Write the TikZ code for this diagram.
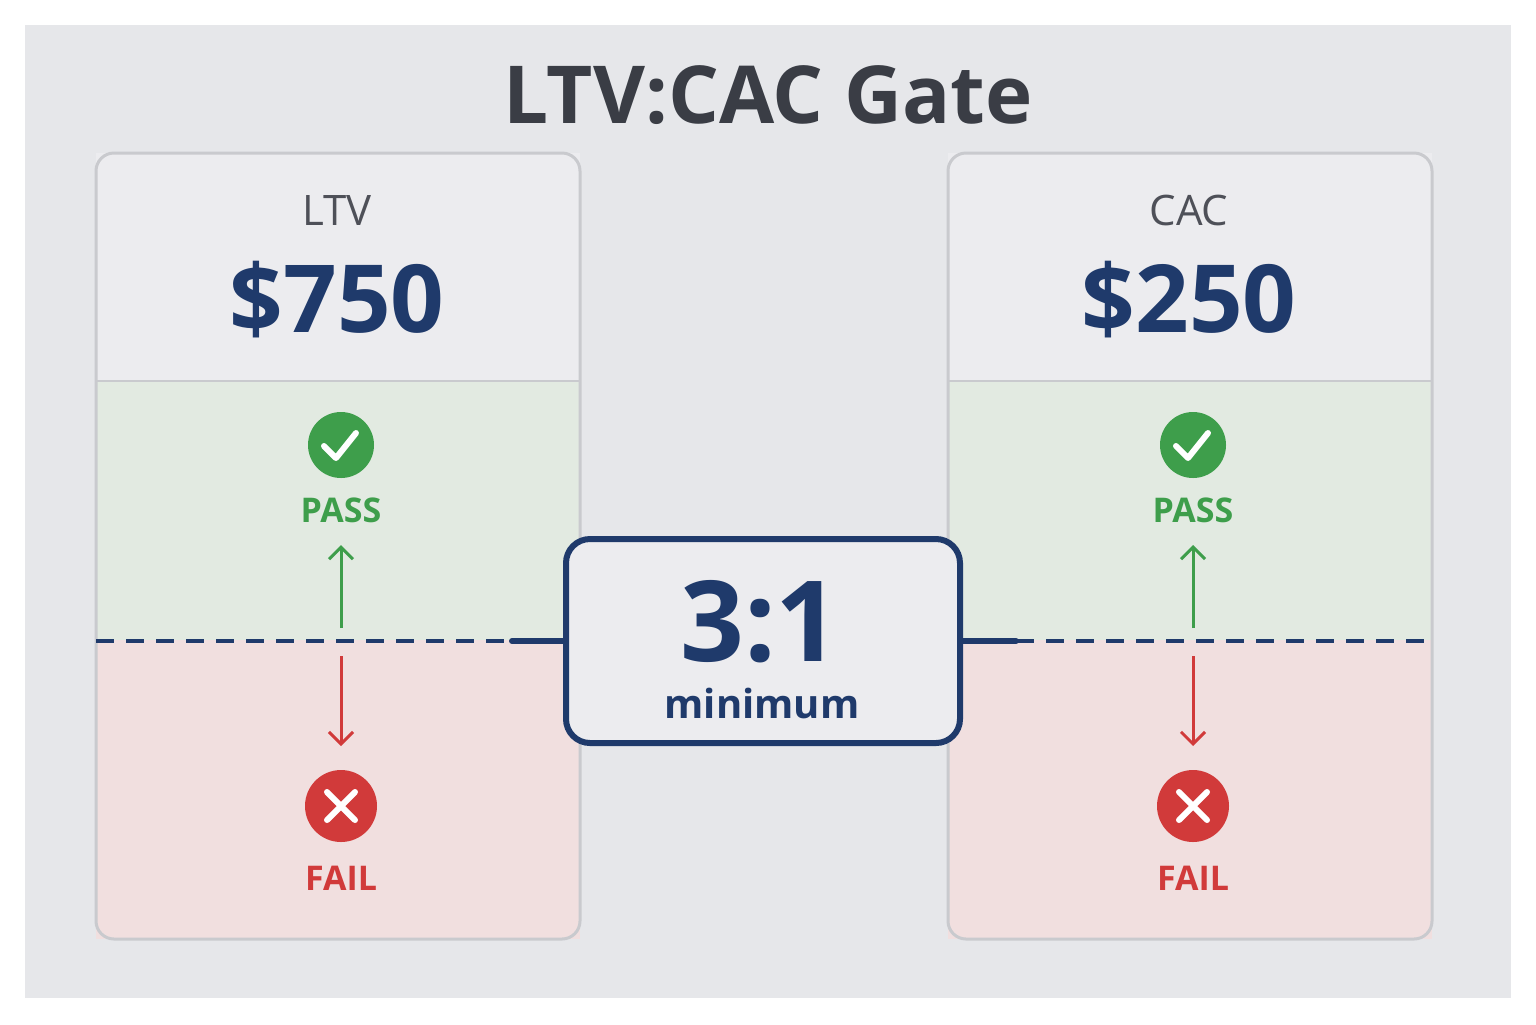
\documentclass[tikz,border=0pt]{standalone}
\usepackage{fontspec}
\setmainfont{Open Sans}
\usetikzlibrary{positioning,arrows.meta}
\definecolor{bgray}{HTML}{E6E7EA}
\definecolor{panelgray}{HTML}{ECECEF}
\definecolor{edgegray}{HTML}{C9CACE}
\definecolor{passbg}{HTML}{E2EAE1}
\definecolor{failbg}{HTML}{F1DFDF}
\definecolor{navy}{HTML}{1F3A6B}
\definecolor{okgreen}{HTML}{3E9E4B}
\definecolor{badred}{HTML}{D13A3A}
\definecolor{titlegray}{HTML}{3A3D45}
\tikzset{
  lbl/.style={text=titlegray!90,font=\fontsize{21}{24}\selectfont},
  amount/.style={text=navy,font=\bfseries\fontsize{47}{52}\selectfont},
  verdict/.style={font=\bfseries\fontsize{17}{20}\selectfont},
  badge/.style={circle,minimum size=#1,inner sep=0pt},
  gate/.style={dashed,dash pattern=on 9pt off 6pt,navy,line width=1.7pt},
  tick/.style={white,line width=3pt,line cap=round,line join=round},
  flow/.style={-{Straight Barb[length=6pt,width=12pt]},line width=1.5pt}
}
\begin{document}
\begin{tikzpicture}[x=0.5pt,y=-0.5pt]
\useasboundingbox (0,0) rectangle (1536,1024);
\fill[bgray] (25,25) rectangle (1511,998);
\node (title) at (768,95) {\color{titlegray}\bfseries\fontsize{40}{46}\selectfont LTV:CAC Gate};
% panels
\foreach \x/\nm/\val in {96/LTV/\$750, 948/CAC/\$250} {
  \begin{scope}[shift={(\x,0)}]
    \fill[panelgray] (0,153) rectangle (484,381);
    \fill[passbg] (0,381) rectangle (484,640);
    \fill[failbg] (0,640) rectangle (484,939);
    \draw[edgegray,line width=1.2pt] (0,381) -- (484,381);
    \draw[edgegray,line width=1.5pt,rounded corners=9pt] (0,153) rectangle (484,939);
    \node[lbl] (name\nm) at (241,210) {\nm};
    \node[amount] (amt\nm) at (241,300) {\val};
    \node[badge=33pt,fill=okgreen] (ok\nm) at (245,445) {};
    \draw[tick] (228,446) -- (240,458) -- (260,433);
    \node[verdict,text=okgreen] (pass\nm) at (245,510) {PASS};
    \node[badge=36pt,fill=badred] (no\nm) at (245,806) {};
    \draw[tick] (231,792) -- (259,820) (259,792) -- (231,820);
    \node[verdict,text=badred] (fail\nm) at (245,878) {FAIL};
    \coordinate (up\nm) at (245,628);
    \coordinate (dn\nm) at (245,656);
    \draw[flow,okgreen] (up\nm) -- (pass\nm.south |- 0,545);
    \draw[flow,badred] (dn\nm) -- (no\nm.north |- 0,746);
  \end{scope}
}
% ratio box
\node[draw=navy,line width=3pt,fill=panelgray,rounded corners=12pt,
      minimum width=197pt,minimum height=102pt] (ratio) at (763,641) {};
\node[text=navy,inner sep=0pt,font=\bfseries\fontsize{56}{60}\selectfont] (three) at (760,622) {3:1};
\node[text=navy,inner sep=0pt,font=\bfseries\fontsize{20}{22}\selectfont] (minim) at (762,703) {minimum};
% threshold
\coordinate (gl) at (96,641);
\coordinate (gr) at (1434,641);
\coordinate (sl) at (512,641);
\coordinate (sr) at (1016,641);
\draw[gate] (gl) -- (sl);
\draw[gate] (sr) -- (gr);
\draw[navy,line width=3pt,line cap=round] (sl) -- (ratio.west);
\draw[navy,line width=3pt,line cap=round] (ratio.east) -- (sr);
\end{tikzpicture}
\end{document}
